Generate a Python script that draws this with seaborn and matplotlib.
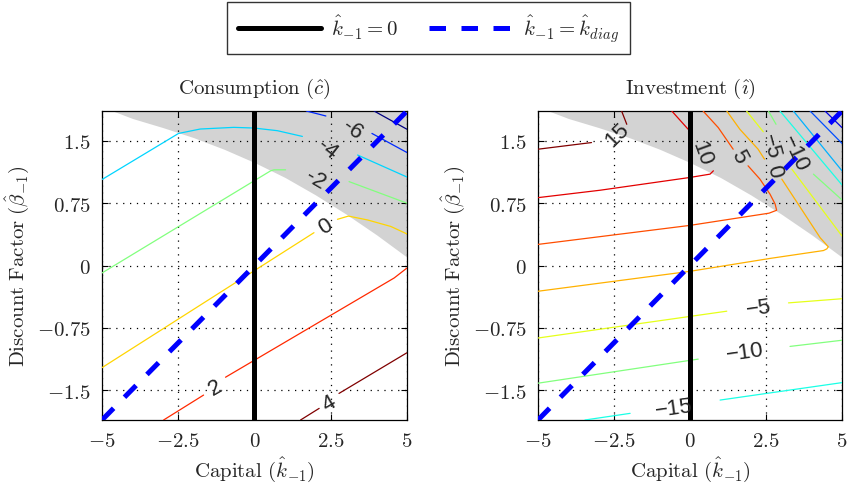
import matplotlib
matplotlib.use("Agg")
import matplotlib.pyplot as plt
from matplotlib.colors import Normalize, LinearSegmentedColormap
from matplotlib.lines import Line2D
import pandas as pd
import seaborn as sns

sns.set_style("ticks")
plt.rcParams["mathtext.fontset"] = "cm"
plt.rcParams["font.family"] = ["DejaVu Serif"]

# ---------------------------------------------------------------- axes data
k_range = [-5.0, 5.0]
beta_range = [-1.86, 1.86]
x_ticks = [-5, -2.5, 0, 2.5, 5]
x_tick_labels = ["-5", "-2.5", "0", "2.5", "5"]
y_ticks = [-1.5, -0.75, 0, 0.75, 1.5]
y_tick_labels = ["-1.5", "-0.75", "0", "0.75", "1.5"]

# reference lines: k = 0 and the diagonal k = k_diag
zero_k = [0.0, 0.0]
diag_k = [-5.0, 5.0]
diag_beta = [-1.86, 1.86]

# lower edge of the shaded region
bound_k = [-5.0, -4.0, -3.0, -2.0, -1.0, 0.0, 1.0, 2.0, 3.0, 4.0, 5.0]
bound_beta = [1.91, 1.77, 1.66, 1.54, 1.40, 1.24, 1.06, 0.85, 0.62, 0.37, 0.10]

# ---------------------------------------------------------- consumption map
cons_levels = [-8, -6, -4, -2, 0, 2, 4]
cons_m8 = [[(3.92, 1.86), (5.00, 1.64)]]
cons_m6 = [[(1.70, 1.86), (2.34, 1.80)],
           [(3.85, 1.59), (5.00, 1.36)]]
cons_m4 = [[(-5.00, 1.035), (-2.49, 1.59), (-1.78, 1.643), (-0.68, 1.663),
            (-0.02, 1.655), (0.75, 1.623), (1.57, 1.554)],
           [(3.38, 1.33), (5.00, 1.065)]]
cons_m2 = [[(-5.00, -0.09), (0.53, 1.14), (0.64, 1.152), (1.02, 1.152)],
           [(3.10, 1.01), (5.00, 0.75)]]
cons_0 = [[(-5.00, -1.23), (1.95, 0.395)],
          [(2.72, 0.556), (3.08, 0.595), (3.71, 0.548), (4.47, 0.47), (5.00, 0.38)]]
cons_2 = [[(-2.98, -1.86), (-1.67, -1.56)],
          [(-0.95, -1.345), (4.58, -0.15), (5.00, -0.03)]]
cons_4 = [[(1.51, -1.86), (2.12, -1.72)],
          [(2.77, -1.54), (5.00, -1.05)]]
cons_pieces = {-8: cons_m8, -6: cons_m6, -4: cons_m4, -2: cons_m2,
               0: cons_0, 2: cons_2, 4: cons_4}

# ----------------------------------------------------------- investment map
inv_levels = [-35, -30, -25, -20, -15, -10, -5, 0, 5, 10, 15]
inv_15 = [[(-5.00, 1.40), (-3.24, 1.48)],
          [(-2.08, 1.70), (-2.25, 1.86)]]
inv_10 = [[(-5.00, 0.817), (-2.96, 0.906), (0.00, 1.06), (0.66, 1.10), (0.77, 1.14)],
          [(-0.06, 1.64), (-0.60, 1.86)]]
inv_5 = [[(-5.00, 0.254), (0.00, 0.483), (2.60, 0.63), (2.85, 0.665), (2.80, 0.74),
          (2.63, 0.86), (2.30, 1.04), (1.91, 1.20)],
         [(1.42, 1.40), (0.93, 1.66), (0.43, 1.86)]]
inv_0 = [[(-5.00, -0.31), (0.00, -0.07), (2.63, 0.085), (4.39, 0.18), (4.50, 0.20),
          (4.55, 0.225), (4.28, 0.335), (3.02, 1.04)],
         [(2.45, 1.28), (2.24, 1.40), (1.64, 1.64), (1.21, 1.86)]]
inv_m5 = [[(-5.00, -0.873), (1.21, -0.55)],
          [(3.24, -0.45), (5.00, -0.40)],
          [(1.86, 1.86), (2.41, 1.61)],
          [(3.35, 1.16), (5.00, 0.355)]]
inv_m10 = [[(-5.00, -1.417), (0.27, -1.127)],
           [(3.29, -0.974), (5.00, -0.90)],
           [(2.58, 1.86), (2.83, 1.70)],
           [(4.06, 1.10), (5.00, 0.79)]]
inv_m15 = [[(-3.455, -1.86), (-1.97, -1.78)],
           [(0.99, -1.62), (5.00, -1.41)],
           [(2.96, 1.86), (5.00, 0.97)]]
inv_m20 = [[(3.40, 1.86), (5.00, 1.14)]]
inv_m25 = [[(3.95, 1.86), (5.00, 1.47)]]
inv_m30 = [[(4.44, 1.86), (5.00, 1.66)]]
inv_pieces = {-30: inv_m30, -25: inv_m25, -20: inv_m20, -15: inv_m15,
              -10: inv_m10, -5: inv_m5, 0: inv_0, 5: inv_5, 10: inv_10, 15: inv_15}

# inline level labels: (text, k, beta, angle)
cons_labels = [("-6", 3.21, 1.64, -35), ("-4", 2.39, 1.40, -38),
               ("-2", 2.00, 1.04, -30), ("0", 2.34, 0.475, 32),
               ("2", -1.28, -1.46, 30), ("4", 2.44, -1.66, 30)]
inv_labels = [("15", -2.41, 1.58, 45), ("10", 0.38, 1.36, -70),
              ("5", 1.60, 1.32, -62), ("\u22125", 2.66, 1.44, -75),
              ("0", 2.77, 1.14, -75), ("\u221210", 3.45, 1.36, -65),
              ("\u22125", 2.25, -0.51, 8), ("\u221210", 1.81, -1.035, 8),
              ("\u221215", -0.52, -1.72, 8)]

FS = 15
LABEL_FONT = ["Liberation Sans", "DejaVu Sans"]
SHADE = "#d3d3d3"
# classic jet ramp: dark blue - blue - cyan - yellow - red - dark red
cmap = LinearSegmentedColormap.from_list(
    "jet64", [(0.0, (0, 0, 0.5)), (0.125, (0, 0, 1)), (0.375, (0, 1, 1)),
              (0.625, (1, 1, 0)), (0.875, (1, 0, 0)), (1.0, (0.5, 0, 0))])


def tex(s):
    return "$" + s + "$"


def draw_panel(ax, pieces, levels, labels, title):
    ax.fill_between(bound_k, bound_beta, 2.2, color=SHADE, lw=0, zorder=1)
    norm = Normalize(min(levels), max(levels))
    for lev, segs in pieces.items():
        for seg in segs:
            df = pd.DataFrame(seg, columns=["k", "beta"])
            sns.lineplot(data=df, x="k", y="beta", sort=False, estimator=None,
                         color=cmap(norm(lev)), lw=0.9, ax=ax, legend=False,
                         zorder=3)
    for txt, kx, by, ang in labels:
        ax.text(kx, by, txt, rotation=ang, rotation_mode="anchor",
                ha="center", va="center", fontsize=16, family=LABEL_FONT,
                zorder=7)
    ax.plot(zero_k, beta_range, color="k", lw=3.6, solid_capstyle="butt", zorder=5)
    ax.plot(diag_k, diag_beta, color="b", lw=3.6, ls=(0, (3.3, 3.1)), zorder=6)

    ax.set_xlim(k_range)
    ax.set_ylim(beta_range)
    ax.set_xticks(x_ticks)
    ax.set_xticklabels([tex(t) for t in x_tick_labels])
    ax.set_yticks(y_ticks)
    ax.set_yticklabels([tex(t) for t in y_tick_labels])
    ax.set_axisbelow("line")
    ax.grid(True, color="k", lw=0.9, ls=(0, (1, 4.5)))
    ax.tick_params(direction="in", length=4, width=0.8, top=True, right=True,
                   labelsize=FS, pad=8, color="k")
    for sp in ax.spines.values():
        sp.set_color("k")
        sp.set_linewidth(0.9)
    ax.set_title(title, fontsize=FS, pad=13)
    ax.set_xlabel(r"$\mathrm{Capital}\ (\hat{k}_{-1})$", fontsize=FS, labelpad=3)
    ax.set_ylabel(r"$\mathrm{Discount\ Factor}\ (\hat{\beta}_{-1})$", fontsize=FS,
                  labelpad=4)


fig = plt.figure(figsize=(8.49, 4.85), dpi=100)
fig.patch.set_facecolor("white")
ax1 = fig.add_axes([102 / 849, 64 / 485, 305 / 849, 309 / 485])
ax2 = fig.add_axes([538 / 849, 64 / 485, 304 / 849, 309 / 485])

draw_panel(ax1, cons_pieces, cons_levels, cons_labels,
           r"$\mathrm{Consumption}\ (\hat{c})$")
draw_panel(ax2, inv_pieces, inv_levels, inv_labels,
           r"$\mathrm{Investment}\ (\hat{\imath})$")

handles = [Line2D([], [], color="k", lw=3.6),
           Line2D([], [], color="b", lw=3.6, ls=(0, (3.3, 3.1)))]
leg = fig.legend(handles, [r"$\hat{k}_{-1} = 0$", r"$\hat{k}_{-1} = \hat{k}_{diag}$"],
                 loc="center", bbox_to_anchor=(0.5047, 0.94), ncol=2,
                 frameon=True, fancybox=False, edgecolor="k", fontsize=FS,
                 handlelength=4.0, handletextpad=0.5, columnspacing=1.5,
                 borderpad=0.5, borderaxespad=0.0)
leg.get_frame().set_linewidth(1.0)

fig.savefig("out.png", dpi=100, facecolor="white")
